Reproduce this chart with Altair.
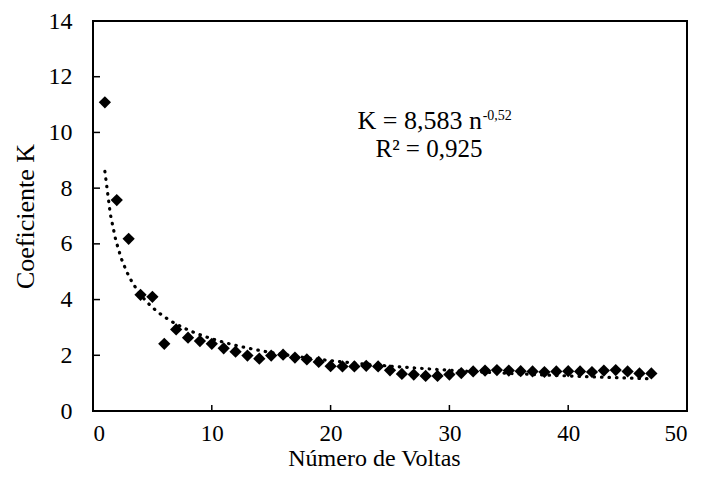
import altair as alt
import pandas as pd

# Data
n_voltas = list(range(1, 48))
coef_k = [11.08, 7.57, 6.18, 4.17, 4.10, 2.41, 2.93, 2.63, 2.51, 2.41,
          2.25, 2.13, 1.99, 1.88, 1.99, 2.02, 1.92, 1.85, 1.76, 1.61,
          1.60, 1.60, 1.62, 1.60, 1.46, 1.33, 1.31, 1.26, 1.26, 1.31,
          1.36, 1.42, 1.45, 1.47, 1.45, 1.43, 1.42, 1.40, 1.42, 1.43,
          1.42, 1.40, 1.45, 1.47, 1.42, 1.35, 1.35]
x_ticks = [0, 10, 20, 30, 40, 50]
y_ticks = [0, 2, 4, 6, 8, 10, 12, 14]

eq_main = "K = 8,583 n"
eq_sup = "-0,52"
eq_r2 = "R² = 0,925"

FONT = "Liberation Serif"
W, H = 594, 390

df = pd.DataFrame({"n": n_voltas, "K": coef_k})
xs = alt.Scale(domain=[0, 50], nice=False, zero=False)
ys = alt.Scale(domain=[0, 14], nice=False, zero=False)

x_axis = alt.Axis(values=x_ticks, labelPadding=11, labelFont=FONT, labelFontSize=23,
                  title="Número de Voltas", titleFont=FONT, titleFontSize=24,
                  titleX=281, titleY=54, titleAlign="center",
                  titleBaseline="alphabetic")
y_axis = alt.Axis(values=y_ticks, labelPadding=21, labelFont=FONT, labelFontSize=24,
                  title="Coeficiente K", titleFont=FONT, titleFontSize=26,
                  titleAngle=270, titleX=-60, titleY=195,
                  titleAlign="center", titleBaseline="alphabetic")


def X(field):
    return alt.X(field, type="quantitative", scale=xs, axis=x_axis, title="Número de Voltas")


def Y(field):
    return alt.Y(field, type="quantitative", scale=ys, axis=y_axis, title="Coeficiente K")


base = alt.Chart(df)

points = base.mark_point(shape="diamond", filled=True, size=150,
                         color="black", opacity=1).encode(x=X("n"), y=Y("K"))

trend = base.transform_regression(
    "n", "K", method="pow", extent=[1, 47]
).mark_line(color="black", strokeWidth=3.2, strokeCap="round",
            strokeDash=[0.5, 7]).encode(x=X("n"), y=Y("K"))

ytick_df = pd.DataFrame({"v": y_ticks})
xtick_df = pd.DataFrame({"v": x_ticks})

yticks = alt.Chart(ytick_df).mark_rule(color="black", strokeWidth=1.5).encode(
    y=Y("v"), x=alt.value(0), x2=alt.value(7),
)
xticks = alt.Chart(xtick_df).mark_rule(color="black", strokeWidth=1.5).encode(
    x=X("v"), y=alt.value(H), y2=alt.value(H - 6),
)

ann_main = pd.DataFrame({"x": [32.74], "y": [10.12], "t": [eq_main]})
ann_sup = pd.DataFrame({"x": [32.8], "y": [10.43], "t": [eq_sup]})
ann_r2 = pd.DataFrame({"x": [28.28], "y": [9.13], "t": [eq_r2]})

t_main = alt.Chart(ann_main).mark_text(font=FONT, fontSize=26, align="right",
                                       baseline="alphabetic", color="black").encode(
    x=X("x"), y=Y("y"), text="t:N")
t_sup = alt.Chart(ann_sup).mark_text(font=FONT, fontSize=14, align="left",
                                     baseline="alphabetic", color="black").encode(
    x=X("x"), y=Y("y"), text="t:N")
t_r2 = alt.Chart(ann_r2).mark_text(font=FONT, fontSize=25, align="center",
                                   baseline="alphabetic", color="black").encode(
    x=X("x"), y=Y("y"), text="t:N")

chart = alt.layer(points, trend, yticks, xticks, t_main, t_sup, t_r2).properties(
    width=W, height=H,
    autosize=alt.AutoSizeParams(type="none"),
    padding={"left": 85, "top": 13, "right": 6, "bottom": 61},
    background="white",
).configure_view(
    stroke="black", strokeWidth=2
).configure_axis(
    labelFont=FONT, labelFontSize=24, labelColor="black",
    titleFont=FONT, titleFontSize=26, titleFontWeight="normal", titleColor="black",
    domain=False, ticks=False, tickSize=0, grid=False,
)

chart.save("out.html", embed_options={"renderer": "svg", "actions": False})
